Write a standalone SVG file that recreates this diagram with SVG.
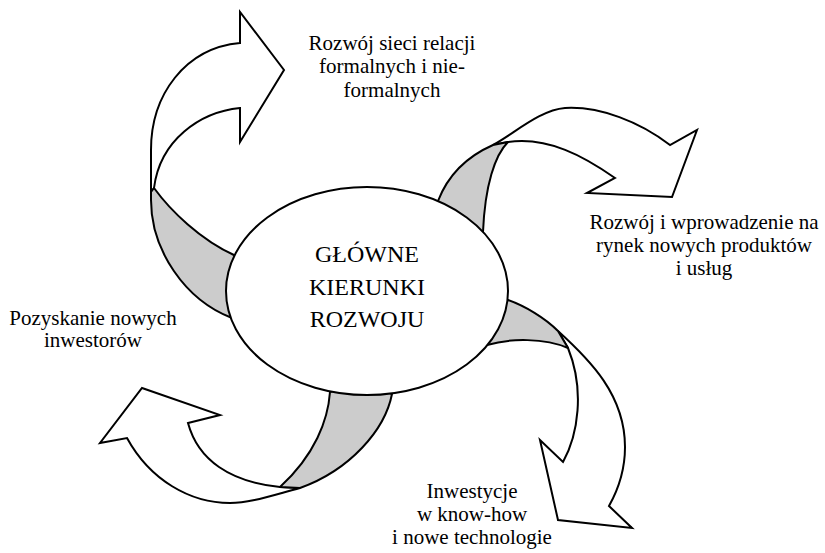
<svg xmlns="http://www.w3.org/2000/svg" width="825" height="553" viewBox="0 0 825 553">
<style>
.body{fill:#ffffff;stroke:#000;stroke-width:2;stroke-linejoin:miter}
.fold{fill:#cccccc;stroke:#000;stroke-width:2;stroke-linejoin:round}
.hub{fill:#ffffff;stroke:#000;stroke-width:2}
text{font-family:"Liberation Serif","Times New Roman",serif;fill:#000;text-anchor:middle}
.lbl{font-size:21px}
.ctr{font-size:24px}
</style>
<rect width="825" height="553" fill="#ffffff"/>
<g id="connectors">
  <g id="arrow-top">
    <path class="body" d="M151,192 L151,150 C151,95 185,48 240,43 L240,12 L284,70 L240,142 L240,108 C200,112 160,140 154,188 Z"/>
    <path class="fold" d="M154,188 C170,210 200,240 236,256 L250,300 L232,318 C185,300 151,250 151,200 L151,192 Z"/>
  </g>
  <g id="arrow-right">
    <path class="body" d="M493,145 C515,133 540,110 565,108 C600,106 640,122 670,145 L697,130 L672,197 L587,193 L615,178 C592,162 545,130 495,145 Z"/>
    <path class="fold" d="M438,201 C448,175 468,156 493,145 L508,142 C495,155 485,185 483,232 L450,260 Z"/>
  </g>
  <g id="arrow-down">
    <path class="body" d="M558,331 C590,360 625,395 625,447 C625,470 618,490 609,506 L632,528 L558,520 L540,440 L563,462 C578,435 585,390 568,348 Z"/>
    <path class="fold" d="M508,300 C525,306 545,318 558,331 L568,348 C545,338 510,338 487,345 L470,320 Z"/>
  </g>
  <g id="arrow-left">
    <path class="body" d="M300,488 C270,496 250,503 230,503 C190,503 150,480 127,438 L100,443 L142,388 L220,415 L188,423 C198,460 230,482 280,487 Z"/>
    <path class="fold" d="M330,392 C328,420 315,455 280,487 L300,488 C350,470 385,430 392,394 L360,380 Z"/>
  </g>
</g>
<g id="node-center">
  <ellipse class="hub" cx="367" cy="291" rx="141" ry="104"/>
  <text class="ctr" x="367" y="262">GŁÓWNE</text>
  <text class="ctr" x="367" y="295">KIERUNKI</text>
  <text class="ctr" x="367" y="327">ROZWOJU</text>
</g>
<g id="node-relacje">
  <text class="lbl" x="392" y="50">Rozwój sieci relacji</text>
  <text class="lbl" x="392" y="73">formalnych i nie-</text>
  <text class="lbl" x="392" y="97">formalnych</text>
</g>
<g id="node-produkty">
  <text class="lbl" x="704" y="229">Rozwój i wprowadzenie na</text>
  <text class="lbl" x="704" y="252">rynek nowych produktów</text>
  <text class="lbl" x="704" y="275">i usług</text>
</g>
<g id="node-technologie">
  <text class="lbl" x="472" y="498">Inwestycje</text>
  <text class="lbl" x="472" y="521">w know-how</text>
  <text class="lbl" x="472" y="544">i nowe technologie</text>
</g>
<g id="node-inwestorzy">
  <text class="lbl" x="93" y="325">Pozyskanie nowych</text>
  <text class="lbl" x="93" y="347">inwestorów</text>
</g>
</svg>
